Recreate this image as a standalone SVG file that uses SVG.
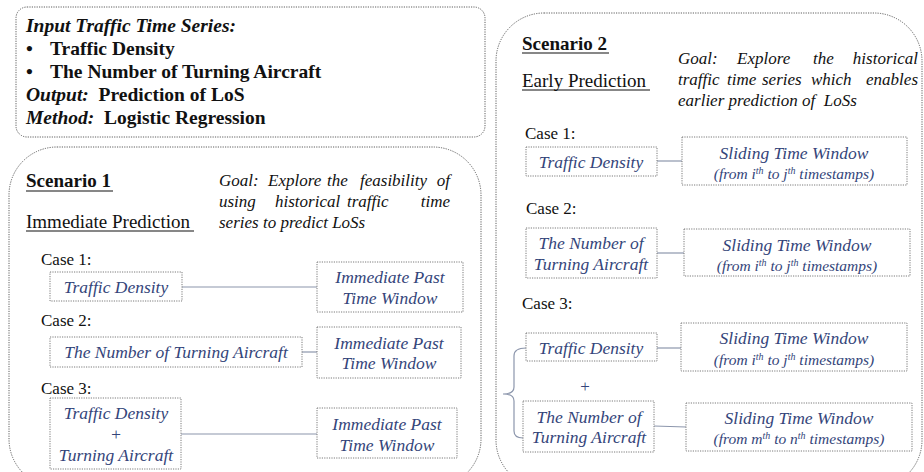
<svg xmlns="http://www.w3.org/2000/svg" width="924" height="472" viewBox="0 0 924 472">
<style>
.frame{fill:none;stroke:#5e5e5e;stroke-width:1;stroke-dasharray:1.2 1.2}
.box{fill:#fff;stroke:#7a7a7a;stroke-width:1;stroke-dasharray:1.2 1.2}
.conn{fill:none;stroke:#8c96ac;stroke-width:1.2}
text{font-family:'Liberation Serif',serif}
.t{fill:#111}
.hb{font-size:19.5px;font-weight:bold}
.case{font-size:17px}
.goal{font-size:17px;font-style:italic}
.bt{font-style:italic;font-size:17.5px;fill:#34457a;text-anchor:middle}
.sub{font-style:italic;font-size:15.5px;fill:#34457a;text-anchor:middle}
.ul{stroke:#111;stroke-width:1.2}
</style>
<rect width="924" height="472" fill="#fff"/>

<g id="info">
<rect class="frame" x="16" y="7" width="469" height="130" rx="11"/>
<text class="t hb" x="26" y="32" font-style="italic">Input Traffic Time Series:</text>
<text class="t hb" x="26" y="55">•</text>
<text class="t hb" x="50" y="55">Traffic Density</text>
<text class="t hb" x="26" y="78">•</text>
<text class="t hb" x="50" y="78">The Number of Turning Aircraft</text>
<text class="t hb" x="26" y="101" xml:space="preserve"><tspan font-style="italic">Output:</tspan>  Prediction of LoS</text>
<text class="t hb" x="26" y="124" xml:space="preserve"><tspan font-style="italic">Method:</tspan>  Logistic Regression</text>
</g>

<g id="scenario1">
<rect class="frame" x="9" y="147" width="472" height="340" rx="48"/>
<text class="t" x="26" y="187" font-size="19" font-weight="bold">Scenario 1</text>
<line class="ul" x1="26" y1="191" x2="113" y2="191"/>
<text class="t" x="26" y="228" font-size="19">Immediate Prediction</text>
<line class="ul" x1="26" y1="231" x2="194" y2="231"/>
<text class="t goal" x="219" y="186">Goal:<tspan x="268">Explore</tspan><tspan x="327">the</tspan><tspan x="360">feasibility</tspan><tspan x="450" text-anchor="end">of</tspan></text>
<text class="t goal" x="219" y="207">using<tspan x="275">historical</tspan><tspan x="347">traffic</tspan><tspan x="450" text-anchor="end">time</tspan></text>
<text class="t goal" x="219" y="228">series to predict LoSs</text>
<text class="t case" x="41" y="265">Case 1:</text>
<text class="t case" x="41" y="326">Case 2:</text>
<text class="t case" x="41" y="394">Case 3:</text>
</g>

<g id="scenario2">
<rect class="frame" x="496" y="13" width="426" height="475" rx="48"/>
<text class="t" x="522" y="50" font-size="19" font-weight="bold">Scenario 2</text>
<line class="ul" x1="522" y1="53" x2="609" y2="53"/>
<text class="t" x="522" y="87" font-size="19">Early Prediction</text>
<line class="ul" x1="522" y1="90" x2="650" y2="90"/>
<text class="t goal" x="678" y="64">Goal:<tspan x="737">Explore</tspan><tspan x="813">the</tspan><tspan x="918" text-anchor="end">historical</tspan></text>
<text class="t goal" x="678" y="85">traffic<tspan x="727">time</tspan><tspan x="762">series</tspan><tspan x="811">which</tspan><tspan x="918" text-anchor="end">enables</tspan></text>
<text class="t goal" x="678" y="106" xml:space="preserve">earlier prediction of  LoSs</text>
<text class="t case" x="525" y="139">Case 1:</text>
<text class="t case" x="526" y="214">Case 2:</text>
<text class="t case" x="522" y="309">Case 3:</text>
<text x="585" y="392" font-size="17" text-anchor="middle" fill="#34457a">+</text>
</g>

<g id="connectors">
<line class="conn" x1="182" y1="287" x2="317" y2="287"/>
<line class="conn" x1="302" y1="352" x2="317" y2="352"/>
<line class="conn" x1="181" y1="434" x2="317" y2="434"/>
<line class="conn" x1="657" y1="161" x2="682" y2="161"/>
<line class="conn" x1="657" y1="253" x2="684" y2="253"/>
<line class="conn" x1="657" y1="348" x2="681" y2="348"/>
<line class="conn" x1="654" y1="426" x2="686" y2="427"/>
<path class="conn" d="M526,348 Q514,348 514,356 L514,387 Q514,394 503,394 Q514,394 514,401 L514,431 Q514,438 523,438"/>
</g>

<g id="s1c1-input">
<rect class="box" x="50" y="272" width="132" height="29"/>
<text class="bt" x="116" y="293">Traffic Density</text>
</g>
<g id="s1c1-window">
<rect class="box" x="317" y="262" width="146" height="50"/>
<text class="bt" x="390" y="283">Immediate Past</text>
<text class="bt" x="390" y="304">Time Window</text>
</g>
<g id="s1c2-input">
<rect class="box" x="50" y="337" width="252" height="30"/>
<text class="bt" x="176" y="358">The Number of Turning Aircraft</text>
</g>
<g id="s1c2-window">
<rect class="box" x="317" y="327" width="144" height="51"/>
<text class="bt" x="389" y="349">Immediate Past</text>
<text class="bt" x="389" y="369">Time Window</text>
</g>
<g id="s1c3-input">
<rect class="box" x="50" y="398" width="131" height="71"/>
<text class="bt" x="116" y="419">Traffic Density</text>
<text class="bt" x="116" y="440" font-style="normal">+</text>
<text class="bt" x="116" y="461">Turning Aircraft</text>
</g>
<g id="s1c3-window">
<rect class="box" x="317" y="408" width="140" height="50"/>
<text class="bt" x="387" y="430">Immediate Past</text>
<text class="bt" x="387" y="451">Time Window</text>
</g>

<g id="s2c1-input">
<rect class="box" x="526" y="147" width="131" height="29"/>
<text class="bt" x="591" y="168">Traffic Density</text>
</g>
<g id="s2c1-window">
<rect class="box" x="682" y="137" width="225" height="48"/>
<text class="bt" x="794" y="159">Sliding Time Window</text>
<text class="sub" x="794" y="179">(from i<tspan font-size="10" dy="-5">th</tspan><tspan dy="5"> to j</tspan><tspan font-size="10" dy="-5">th</tspan><tspan dy="5"> timestamps)</tspan></text>
</g>
<g id="s2c2-input">
<rect class="box" x="526" y="228" width="131" height="50"/>
<text class="bt" x="591" y="249">The Number of</text>
<text class="bt" x="591" y="270">Turning Aircraft</text>
</g>
<g id="s2c2-window">
<rect class="box" x="684" y="229" width="226" height="47"/>
<text class="bt" x="797" y="251">Sliding Time Window</text>
<text class="sub" x="797" y="271">(from i<tspan font-size="10" dy="-5">th</tspan><tspan dy="5"> to j</tspan><tspan font-size="10" dy="-5">th</tspan><tspan dy="5"> timestamps)</tspan></text>
</g>
<g id="s2c3-input1">
<rect class="box" x="526" y="333" width="131" height="28"/>
<text class="bt" x="591" y="354">Traffic Density</text>
</g>
<g id="s2c3-window1">
<rect class="box" x="681" y="323" width="226" height="48"/>
<text class="bt" x="794" y="344">Sliding Time Window</text>
<text class="sub" x="794" y="365">(from i<tspan font-size="10" dy="-5">th</tspan><tspan dy="5"> to j</tspan><tspan font-size="10" dy="-5">th</tspan><tspan dy="5"> timestamps)</tspan></text>
</g>
<g id="s2c3-input2">
<rect class="box" x="523" y="401" width="131" height="51"/>
<text class="bt" x="589" y="423">The Number of</text>
<text class="bt" x="589" y="443">Turning Aircraft</text>
</g>
<g id="s2c3-window2">
<rect class="box" x="686" y="403" width="226" height="48"/>
<text class="bt" x="799" y="424">Sliding Time Window</text>
<text class="sub" x="799" y="444">(from m<tspan font-size="10" dy="-5">th</tspan><tspan dy="5"> to n</tspan><tspan font-size="10" dy="-5">th</tspan><tspan dy="5"> timestamps)</tspan></text>
</g>
</svg>
